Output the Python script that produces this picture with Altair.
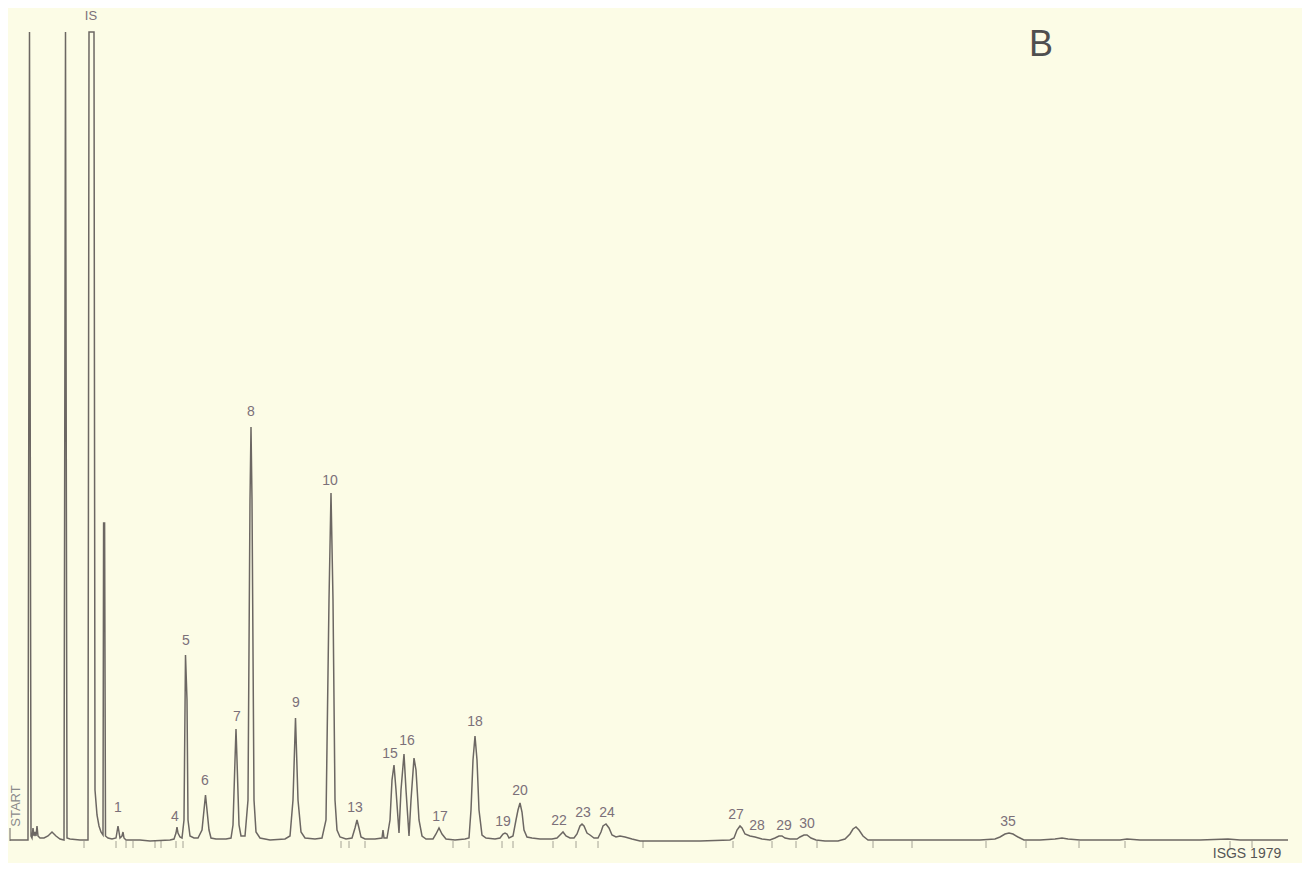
import altair as alt
import pandas as pd

BASE = 841
trace_x = [10, 28, 29.5, 31, 32, 33, 34, 35, 36, 37, 38, 40, 44, 48, 52, 56, 60, 64, 65.5, 67, 70, 80, 88,
           89, 94, 95, 97, 99, 101, 103, 103.6, 104.6, 105.5, 108, 112, 116, 117, 118, 119, 120, 122, 123, 124, 126,
           140, 150, 170, 174, 176, 177, 178, 180, 182, 184, 185.5, 187, 188, 190, 194, 198, 202, 204, 205.5,
           207, 209, 211, 216, 226, 231, 233, 235, 236, 237, 239, 241, 245, 248, 250, 251, 252, 254, 256,
           260, 270, 285, 290, 293, 295.5, 298, 301, 305, 315, 322, 326, 329, 331, 333, 335, 337, 340,
           346, 352, 355, 357, 359, 361, 365, 375, 382, 383, 384, 387, 390, 392, 394, 396, 399, 401,
           404, 406, 409, 411, 414, 416, 419, 422, 426, 433, 436, 439, 442, 446, 455, 465, 469, 471,
           473, 475, 477, 479, 482, 486, 495, 500, 503, 505, 507, 509, 513, 516, 518, 520, 522, 524,
           527, 532, 540, 548, 552, 557, 560, 563, 566, 570, 574, 577, 580, 582, 584, 587, 590, 594,
           598, 601, 603, 606, 609, 612, 616, 620, 625, 632, 640, 660, 700, 730, 734, 737, 740, 742,
           745, 750, 755, 762, 770, 775, 779, 782, 785, 790, 797, 800, 804, 807, 811, 816, 825, 838,
           845, 850, 853, 856, 859, 863, 868, 880, 920, 960, 980, 995, 1000, 1005, 1009, 1013, 1018,
           1024, 1040, 1055, 1062, 1068, 1080, 1120, 1127, 1140, 1200, 1228, 1240, 1288]
trace_pen = [840, 840, 32, 836, 838, 828, 836, 832, 836, 826, 836, 838, 838, 836, 832, 836, 839, 840, 32, 838, 839, 840, 840,
             32, 32, 790, 815, 826, 832, 835, 523, 523, 836, 838, 839, 838, 832, 826, 832, 838, 836, 832, 838, 840,
             840, 841, 840, 839, 833, 827, 833, 837, 838, 820, 655, 700, 820, 836, 838, 838, 830, 810, 795,
             810, 830, 838, 839, 839, 838, 825, 760, 729, 760, 825, 836, 836, 800, 500, 427, 500, 800, 832,
             838, 840, 839, 836, 800, 718, 800, 832, 838, 839, 838, 820, 600, 493, 600, 800, 830, 837,
             839, 838, 828, 820, 828, 837, 839, 839, 838, 830, 838, 838, 820, 780, 765, 790, 833, 790,
             754, 790, 836, 800, 758, 770, 820, 836, 839, 839, 834, 828, 834, 839, 840, 839, 838, 810,
             760, 736, 760, 810, 835, 838, 839, 838, 834, 833, 834, 838, 836, 820, 810, 803, 812, 830,
             837, 838, 839, 839, 839, 838, 835, 832, 836, 838, 838, 834, 826, 824, 826, 833, 835, 838,
             838, 832, 826, 824, 828, 835, 837, 836, 837, 839, 841, 841, 841, 840, 838, 830, 826, 828,
             834, 836, 837, 839, 840, 838, 836, 836, 838, 839, 839, 837, 835, 835, 838, 840, 841, 841,
             839, 834, 829, 827, 830, 836, 840, 840, 840, 840, 840, 839, 837, 834, 833, 834, 837,
             840, 840, 839, 838, 839, 840, 840, 839, 840, 840, 839, 840, 840]

# Chart-speed / event marks below the baseline
tick_x = [84, 116, 126, 133, 155, 161, 176, 183, 341, 349, 365, 453, 469, 502, 513, 553, 576, 598,
          643, 733, 772, 796, 817, 873, 912, 986, 1026, 1079, 1125, 1230, 1252]

# Peak numbers
peak_labels = ["1", "4", "5", "6", "7", "8", "9", "10", "13", "15", "16", "17", "18", "19", "20",
               "22", "23", "24", "27", "28", "29", "30", "35"]
peak_label_x = [118, 175, 186, 205, 237, 251, 296, 330, 355, 390, 407, 440, 475, 503, 520,
                559, 583, 607, 736, 757, 784, 807, 1008]
peak_label_pen = [808, 817, 641, 781, 717, 412, 703, 481, 808, 754, 741, 817, 722, 822, 791,
                  821, 813, 813, 815, 826, 826, 824, 822]

BG = "#fcfce6"
LINE = "#6c6763"
LABEL = "#7b7079"

trace = pd.DataFrame({"t": trace_x, "r": [BASE - p for p in trace_pen]})
ticks = pd.DataFrame({"t": tick_x, "r": [0] * len(tick_x), "r2": [-7] * len(tick_x)})
labels = pd.DataFrame({"t": peak_label_x, "r": [BASE - p for p in peak_label_pen], "lab": peak_labels})

xs = alt.Scale(domain=[8, 1302], nice=False, zero=False)
ys = alt.Scale(domain=[BASE - 863, BASE - 8], nice=False, zero=False)

X = lambda f="t": alt.X(f"{f}:Q", scale=xs, axis=None)
Y = lambda f="r": alt.Y(f"{f}:Q", scale=ys, axis=None)

line = alt.Chart(trace).mark_line(color=LINE, strokeWidth=1.5, interpolate="linear").encode(
    x=X(), y=Y(), order="t:Q")

tick_rules = alt.Chart(ticks).mark_rule(color=LINE, strokeWidth=1, opacity=0.6).encode(
    x=X(), y=Y(), y2="r2:Q")

start_df = pd.DataFrame({"t": [10], "r": [0], "r2": [13]})
start_rule = alt.Chart(start_df).mark_rule(color=LINE, strokeWidth=1).encode(x=X(), y=Y(), y2="r2:Q")

lab = alt.Chart(labels).mark_text(font="Liberation Sans", fontSize=14, color=LABEL,
                                   baseline="middle", align="center").encode(
    x=X(), y=Y(), text="lab:N")

misc = pd.DataFrame({
    "t": [91, 1041, 1247],
    "r": [BASE - 16, BASE - 45, BASE - 854],
    "lab": ["IS", "B", "ISGS 1979"],
})
is_txt = alt.Chart(misc.iloc[[0]]).mark_text(font="Liberation Sans", fontSize=13, color=LABEL,
                                             baseline="middle").encode(x=X(), y=Y(), text="lab:N")
b_txt = alt.Chart(misc.iloc[[1]]).mark_text(font="Liberation Sans", fontSize=36, color="#4f4f4f",
                                            baseline="middle").encode(x=X(), y=Y(), text="lab:N")
isgs_txt = alt.Chart(misc.iloc[[2]]).mark_text(font="Liberation Sans", fontSize=14, color="#555555",
                                               fontWeight=500, baseline="middle").encode(
    x=X(), y=Y(), text="lab:N")

start_txt_df = pd.DataFrame({"t": [16], "r": [BASE - 806], "lab": ["START"]})
start_txt = alt.Chart(start_txt_df).mark_text(font="Liberation Sans", fontSize=13, color="#8a8a8a",
                                              angle=270, baseline="middle").encode(
    x=X(), y=Y(), text="lab:N")

chart = alt.layer(line, tick_rules, start_rule, lab, is_txt, b_txt, isgs_txt, start_txt).properties(
    width=1294, height=855, padding=0, autosize=alt.AutoSizeParams(type="none"),
    background=BG
).configure_view(stroke=None, fill=BG)

chart.save("out.html", embed_options={"renderer": "svg", "actions": False})
